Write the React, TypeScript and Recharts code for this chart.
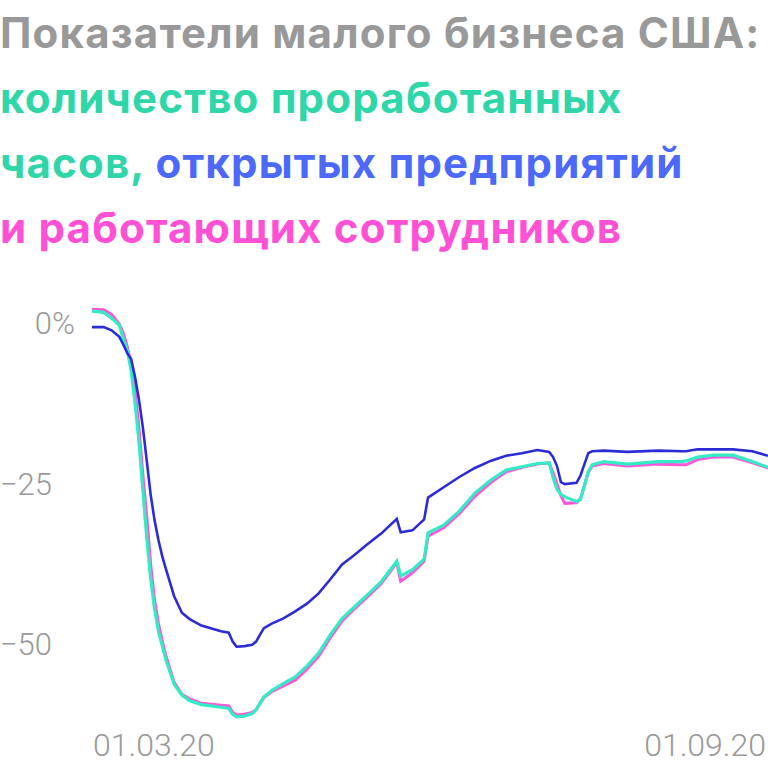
import React from 'react';
import { LineChart, Line, XAxis, YAxis } from 'recharts';

// days since 01.03.20
const days = [
  0, 3, 5, 7, 8, 9, 10, 11, 12, 13, 14, 15, 16, 17, 18, 19, 21, 23, 25, 28,
  33, 35, 36, 37, 39, 41, 42, 43, 44, 46, 49, 52, 55, 58, 61, 64, 67, 70, 74, 78,
  79, 82, 85, 86, 90, 94, 98, 102, 106, 110, 114, 117, 118, 119, 120, 121, 124, 125, 127, 128,
  131, 137, 145, 151, 152, 155, 159, 164, 169, 173,
];

// открытые предприятия, %
const businessesOpen = [
  -0.6, -0.6, -1.1, -2.1, -3.3, -4.6, -5.5, -8.3, -11.8, -16.1, -21.3, -26.6, -30.6, -33.7, -36.3, -38.4, -42.4, -45.0, -46.0, -47.0,
  -47.9, -48.1, -49.5, -50.3, -50.2, -50.0, -49.5, -48.4, -47.4, -46.7, -45.9, -44.8, -43.6, -42.0, -39.8, -37.5, -36.1, -34.6, -32.7, -30.4,
  -32.5, -32.2, -30.5, -27.1, -25.5, -23.9, -22.5, -21.4, -20.6, -20.2, -19.7, -20.0, -20.8, -22.2, -24.7, -25.0, -24.8, -23.7, -20.2, -19.9,
  -19.8, -20.0, -19.8, -19.9, -19.9, -19.6, -19.6, -19.6, -19.9, -20.6,
];

// проработанные часы, %
const hoursWorked = [
  1.9, 1.7, 0.8, -0.3, -2.4, -4.1, -7.3, -12.3, -18.3, -25.8, -33.3, -39.6, -44.4, -47.9, -50.2, -52.5, -56.1, -57.8, -58.7, -59.3,
  -59.7, -59.9, -60.8, -61.2, -61.1, -60.7, -60.1, -59.1, -58.1, -57.1, -56.0, -55.0, -53.3, -51.3, -48.4, -45.9, -44.2, -42.5, -40.2, -37.0,
  -39.3, -38.3, -36.7, -32.6, -31.4, -29.2, -26.4, -24.4, -22.8, -22.3, -21.8, -21.7, -24.0, -25.8, -26.6, -27.0, -27.7, -27.4, -23.1, -22.0,
  -21.5, -21.9, -21.5, -21.5, -21.4, -20.8, -20.5, -20.5, -21.5, -22.4,
];

// работающие сотрудники, %
const employeesWorking = [
  2.2, 2.1, 1.4, -0.1, -1.5, -3.6, -6.4, -10.3, -16.1, -23.4, -30.0, -37.4, -43.0, -46.7, -49.4, -51.9, -55.8, -57.7, -58.4, -59.1,
  -59.4, -59.5, -60.5, -60.9, -60.8, -60.5, -60.1, -59.1, -58.2, -57.3, -56.4, -55.5, -53.8, -51.8, -48.9, -46.3, -44.5, -42.8, -40.5, -37.2,
  -40.1, -38.8, -37.0, -33.1, -31.8, -29.6, -26.9, -24.8, -23.1, -22.4, -21.9, -21.7, -23.2, -25.0, -26.8, -28.0, -27.9, -27.3, -23.2, -22.2,
  -21.8, -22.2, -21.9, -22.0, -22.0, -21.2, -20.8, -20.8, -21.7, -22.5,
];

const xTicks = [0, 173];
const xTickLabels = ['01.03.20', '01.09.20'];
const yTicks = [0, -25, -50];

const data = days.map((d, i) => ({
  day: d,
  businesses: businessesOpen[i],
  hours: hoursWorked[i],
  employees: employeesWorking[i],
}));

const GRAY = '#999999';
const FONT = 'Roboto, "Noto Sans", sans-serif';
const TITLE_FONT = 'Inter, Roboto, sans-serif';

function YTick({ y, payload }: any) {
  const v = payload.value;
  const num = v === 0 ? '0' : '\u2212' + Math.abs(v);
  return (
    <g>
      <text x={52} y={y} textAnchor="end" dominantBaseline="central" fill={GRAY} fontSize={31} fontWeight={300} fontFamily={FONT}>
        {num}
      </text>
      {v === 0 && (
        <text x={52} y={y} textAnchor="start" dominantBaseline="central" fill={GRAY} fontSize={31} fontWeight={300} fontFamily={FONT}>
          %
        </text>
      )}
    </g>
  );
}

function XTick({ x, payload }: any) {
  const i = xTicks.indexOf(payload.value);
  return (
    <text x={i === 0 ? x + 1 : x - 2} y={756} textAnchor={i === 0 ? 'start' : 'end'} fill={GRAY} fontSize={32} fontWeight={300} fontFamily={FONT}>
      {xTickLabels[i]}
    </text>
  );
}

export default function App() {
  const titleLine: React.CSSProperties = { whiteSpace: 'nowrap' };
  return (
    <div style={{ position: 'absolute', left: 0, top: 0, width: 768, height: 765, background: '#fff' }}>
      <LineChart width={768} height={765} data={data} margin={{ top: 304, right: 0, left: 0, bottom: 0 }}>
        <XAxis
          dataKey="day"
          type="number"
          domain={[0, 173]}
          ticks={xTicks}
          tick={<XTick />}
          axisLine={false}
          tickLine={false}
          height={43}
          interval={0}
        />
        <YAxis
          type="number"
          domain={[-62, 3]}
          ticks={yTicks}
          tick={<YTick />}
          axisLine={false}
          tickLine={false}
          width={92}
          interval={0}
        />
        <Line type="linear" dataKey="employees" stroke="#ff55dc" strokeWidth={3} dot={false} isAnimationActive={false} />
        <Line type="linear" dataKey="hours" stroke="#33ebc4" strokeWidth={3.2} dot={false} isAnimationActive={false} />
        <Line type="linear" dataKey="businesses" stroke="#2c2cd6" strokeWidth={2.6} dot={false} isAnimationActive={false} />
      </LineChart>
      <div
        style={{
          position: 'absolute',
          left: 0,
          top: 0,
          fontFamily: TITLE_FONT,
          fontWeight: 700,
          fontSize: 42,
          lineHeight: '65px',
          letterSpacing: 1.2,
        }}
      >
        <div style={{ ...titleLine, color: GRAY }}>Показатели малого бизнеса США:</div>
        <div style={{ ...titleLine, color: '#2ed6a8' }}>количество проработанных</div>
        <div style={titleLine}>
          <span style={{ color: '#2ed6a8' }}>часов,</span> <span style={{ color: '#4c69fa' }}>открытых предприятий</span>
        </div>
        <div style={{ ...titleLine, color: '#ff50d6' }}>и работающих сотрудников</div>
      </div>
    </div>
  );
}
